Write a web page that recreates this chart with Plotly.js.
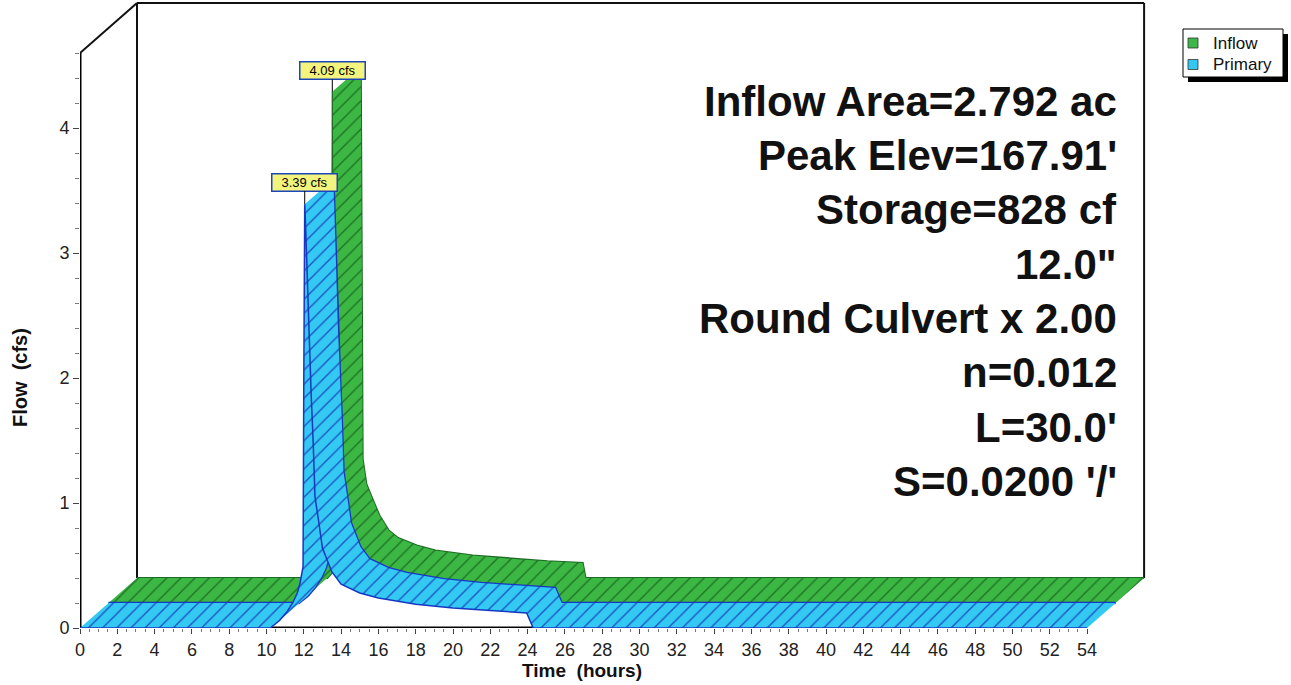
<!DOCTYPE html>
<html><head><meta charset="utf-8">
<script src="https://cdn.plot.ly/plotly-3.0.1.min.js"></script>
<style>html,body{margin:0;padding:0;background:#fff;} #chart{width:1291px;height:685px;}</style>
</head><body><div id="chart"></div>
<script>
// ---- data ----
const inflowHours = [0, 10.2, 10.5, 11.0, 11.5, 11.8, 11.9, 12.0, 12.1, 12.3, 12.6, 13.0, 13.5, 14.0, 15.0, 16.0, 18.0, 20.0, 22.0, 23.9, 24.05, 54];
const inflowCfs   = [0, 0, 0.05, 0.12, 0.25, 0.40, 0.60, 4.09, 0.95, 0.75, 0.64, 0.50, 0.38, 0.32, 0.26, 0.22, 0.18, 0.155, 0.135, 0.12, 0, 0];
const primaryHours = [0, 10.2, 10.7, 11.1, 11.4, 11.65, 11.8, 11.96, 12.0, 12.05, 12.1, 12.2, 12.3, 12.4, 12.5, 12.6, 12.8, 13.0, 13.5, 14.0, 15.0, 16.0, 18.0, 20.0, 22.0, 23.95, 24.3, 54];
const primaryCfs   = [0, 0, 0.06, 0.13, 0.2, 0.28, 0.36, 0.49, 2.0, 3.39, 3.2, 2.7, 2.2, 1.85, 1.5, 1.05, 0.85, 0.64, 0.45, 0.35, 0.28, 0.24, 0.19, 0.16, 0.14, 0.12, 0, 0];
const seriesNames = ["Inflow", "Primary"];
const xTickVals = [0,2,4,6,8,10,12,14,16,18,20,22,24,26,28,30,32,34,36,38,40,42,44,46,48,50,52,54];
const yTickVals = [0,1,2,3,4];
const infoLines = ["Inflow Area=2.792 ac", "Peak Elev=167.91'", "Storage=828 cf", "12.0\"", "Round Culvert x 2.00", "n=0.012", "L=30.0'", "S=0.0200 '/'"];

// ---- geometry / style ----
const FONT = "Liberation Sans, Arial, Helvetica, sans-serif";
const PXH = 18.65, PXQ = 125;           // pixels per hour, pixels per cfs
const ML = 80, MT = 0, W = 1069, H = 628;
const DX = 28.5 / PXH, DY = 25 / PXQ;  // pseudo-3D depth step
const XMAX = W / PXH, YMAX = H / PXQ;
const paperX = px => (px - ML) / W;
const paperY = py => (MT + H - py) / H;

const colors = {
  Inflow:  {fill: "#3cb744", hatch: "#1f7426", edge: "#1d6b22", legend: "#3cb84a"},
  Primary: {fill: "#33c9f2", hatch: "#1d55c4", edge: "#1736c2", legend: "#33c6f0"}
};

function ribbon(hours, vals, depth) {
  const xs = [], ys = [];
  for (let i = 0; i < hours.length - 1; i++) {
    let p = [
      [hours[i] + depth * DX, vals[i] + depth * DY],
      [hours[i + 1] + depth * DX, vals[i + 1] + depth * DY],
      [hours[i + 1] + (depth + 1) * DX, vals[i + 1] + (depth + 1) * DY],
      [hours[i] + (depth + 1) * DX, vals[i] + (depth + 1) * DY]
    ];
    let a = 0;
    for (let k = 0; k < 4; k++) {
      const [x1, y1] = p[k], [x2, y2] = p[(k + 1) % 4];
      a += x1 * PXH * y2 * PXQ - x2 * PXH * y1 * PXQ;
    }
    if (a < 0) p.reverse();
    p.forEach(q => { xs.push(q[0]); ys.push(q[1]); });
    xs.push(null); ys.push(null);
  }
  return {xs, ys};
}

function seriesTraces(name, hours, vals, depth, lw) {
  const c = colors[name];
  const r = ribbon(hours, vals, depth);
  return [
    {x: hours.map(h => h + (depth + 1) * DX), y: vals.map(v => v + (depth + 1) * DY), mode: "lines",
     line: {color: c.edge, width: lw + 1}, hoverinfo: "skip", showlegend: false},
    {x: r.xs, y: r.ys, mode: "none", fill: "toself", fillcolor: c.fill,
     fillpattern: {shape: "/", bgcolor: c.fill, fgcolor: c.hatch, size: 10, solidity: 0.14},
     hoverinfo: "skip", showlegend: false, name: name},
    {x: hours.map(h => h + depth * DX), y: vals.map(v => v + depth * DY), mode: "lines",
     line: {color: c.edge, width: lw}, hoverinfo: "skip", showlegend: false}
  ];
}

const traces = [
  ...seriesTraces("Inflow", inflowHours, inflowCfs, 1, 1),
  ...seriesTraces("Primary", primaryHours, primaryCfs, 0, 1.5)
];

const xMinor = []; for (let t = 0; t <= 54; t += 0.5) if (t % 2 !== 0) xMinor.push(t);
const yMinor = []; for (let k = 1; k <= 23; k++) if (k % 5 !== 0) yMinor.push(k / 5);

const D2X = 2 * DX, D2Y = 2 * DY, YTOP = 4.6;
const frameLine = {color: "#111", width: 2};
const shapes = [
  {type: "line", xref: "x", yref: "y", x0: 0, y0: 0, x1: 54, y1: 0, line: {color: "#000", width: 3}, layer: "below"},
  {type: "line", xref: "x", yref: "y", x0: 0, y0: 0, x1: 0, y1: YTOP, line: {color: "#000", width: 3}, layer: "below"},
  {type: "line", xref: "x", yref: "y", x0: 0, y0: YTOP, x1: D2X, y1: YTOP + D2Y, line: frameLine, layer: "below"},
  {type: "line", xref: "x", yref: "y", x0: D2X, y0: D2Y, x1: D2X, y1: YTOP + D2Y, line: frameLine, layer: "below"},
  {type: "line", xref: "x", yref: "y", x0: D2X, y0: YTOP + D2Y, x1: 54 + D2X, y1: YTOP + D2Y, line: frameLine, layer: "below"},
  {type: "line", xref: "x", yref: "y", x0: 54 + D2X, y0: D2Y, x1: 54 + D2X, y1: YTOP + D2Y, line: frameLine, layer: "below"},
  // legend box with shadow
  {type: "rect", xref: "paper", yref: "paper", x0: paperX(1188), x1: paperX(1288), y0: paperY(82), y1: paperY(34),
   fillcolor: "#000", line: {width: 0}, layer: "above"},
  {type: "rect", xref: "paper", yref: "paper", x0: paperX(1183), x1: paperX(1283), y0: paperY(77), y1: paperY(29),
   fillcolor: "#fff", line: {color: "#000", width: 1}, layer: "above"}
];

const annotations = [];
// legend entries
seriesNames.forEach((n, i) => {
  const cy = 43 + i * 21.5;
  shapes.push({type: "rect", xref: "paper", yref: "paper", x0: paperX(1188), x1: paperX(1198),
    y0: paperY(cy + 5), y1: paperY(cy - 5), fillcolor: colors[n].legend, line: {color: "#333", width: 0.8}, layer: "above"});
  annotations.push({xref: "paper", yref: "paper", x: paperX(1211), y: paperY(cy), xanchor: "left", yanchor: "middle",
    text: n, showarrow: false, font: {family: FONT, size: 17, color: "#111"}});
});

function peakLabel(hours, vals, depth, ay) {
  let im = 0; vals.forEach((v, i) => { if (v > vals[im]) im = i; });
  annotations.push({x: hours[im] + depth * DX, y: vals[im] + depth * DY, xref: "x", yref: "y",
    text: vals[im].toFixed(2) + " cfs", showarrow: true, arrowhead: 0, arrowwidth: 1, arrowcolor: "#000",
    ax: 0, ay: ay, bgcolor: "#f3f47e", bordercolor: "#1c46b8", borderwidth: 1.5, borderpad: 1,
    width: 62, height: 14, font: {family: FONT, size: 13, color: "#000"}});
}
peakLabel(inflowHours, inflowCfs, 1, -21);
peakLabel(primaryHours, primaryCfs, 0, -22);

infoLines.forEach((t, i) => annotations.push({
  xref: "paper", yref: "paper", x: paperX(1119), y: paperY(101 + i * 54.4), xanchor: "right", yanchor: "middle",
  text: "<b>" + t + "</b>", showarrow: false, font: {family: FONT, size: 42, color: "#111"}
}));
annotations.push({xref: "paper", yref: "paper", x: paperX(582), y: paperY(670), xanchor: "center", yanchor: "middle",
  text: "<b>Time\u00a0 (hours)</b>", showarrow: false, font: {family: FONT, size: 19, color: "#111"}});
annotations.push({xref: "paper", yref: "paper", x: paperX(20), y: paperY(378), xanchor: "center", yanchor: "middle",
  textangle: -90, text: "<b>Flow\u00a0 (cfs)</b>", showarrow: false, font: {family: FONT, size: 20, color: "#111"}});

const layout = {
  width: 1291, height: 685,
  margin: {l: ML, r: 1291 - ML - W, t: MT, b: 685 - MT - H, pad: 0},
  paper_bgcolor: "#fff", plot_bgcolor: "#fff",
  showlegend: false,
  xaxis: {range: [0, XMAX], showgrid: false, zeroline: false, showline: false, fixedrange: true,
    ticks: "outside", tickvals: xTickVals, ticktext: xTickVals.map(String), ticklen: 5, tickwidth: 1, tickcolor: "#444",
    tickfont: {family: FONT, size: 18, color: "#222"},
    minor: {tickvals: xMinor, ticklen: 3, tickwidth: 1, tickcolor: "#777", ticks: "outside"}},
  yaxis: {range: [0, YMAX], showgrid: false, zeroline: false, showline: false, fixedrange: true,
    ticks: "outside", tickvals: yTickVals, ticktext: yTickVals.map(String), ticklen: 6, tickwidth: 1, tickcolor: "#444",
    tickfont: {family: FONT, size: 18, color: "#222"},
    minor: {tickvals: yMinor, ticklen: 4, tickwidth: 1, tickcolor: "#777", ticks: "outside"}},
  shapes: shapes,
  annotations: annotations
};

Plotly.newPlot("chart", traces, layout, {displayModeBar: false, staticPlot: true});
</script>
</body></html>
